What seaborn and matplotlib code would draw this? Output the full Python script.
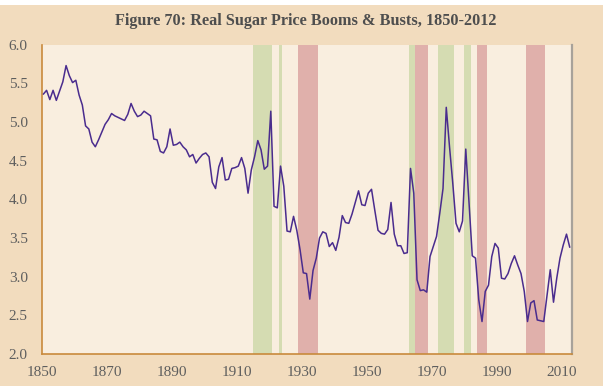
import matplotlib
matplotlib.use("Agg")
import matplotlib.pyplot as plt
import seaborn as sns
import numpy as np
import pandas as pd

# Real sugar price index, annual, 1850-2012
years = list(range(1850, 2013))
price = [
    5.36, 5.41, 5.29, 5.41, 5.28, 5.40, 5.52, 5.73, 5.60, 5.51,  # 1850s
    5.54, 5.35, 5.22, 4.95, 4.91, 4.74, 4.68, 4.77, 4.87, 4.97,  # 1860s
    5.03, 5.11, 5.08, 5.06, 5.04, 5.02, 5.10, 5.24, 5.14, 5.07,  # 1870s
    5.09, 5.14, 5.11, 5.08, 4.78, 4.77, 4.62, 4.60, 4.68, 4.91,  # 1880s
    4.70, 4.71, 4.74, 4.68, 4.64, 4.55, 4.58, 4.47, 4.53, 4.58,  # 1890s
    4.60, 4.55, 4.22, 4.14, 4.42, 4.54, 4.25, 4.26, 4.40, 4.41,  # 1900s
    4.43, 4.54, 4.40, 4.08, 4.38, 4.55, 4.76, 4.64, 4.39, 4.43,  # 1910s
    5.14, 3.91, 3.89, 4.43, 4.17, 3.59, 3.58, 3.78, 3.60, 3.35,  # 1920s
    3.05, 3.04, 2.71, 3.08, 3.24, 3.50, 3.58, 3.56, 3.39, 3.44,  # 1930s
    3.34, 3.51, 3.79, 3.70, 3.69, 3.81, 3.96, 4.11, 3.93, 3.92,  # 1940s
    4.08, 4.13, 3.86, 3.60, 3.56, 3.55, 3.61, 3.96, 3.55, 3.40,  # 1950s
    3.40, 3.30, 3.31, 4.40, 4.08, 2.96, 2.82, 2.83, 2.80, 3.26,  # 1960s
    3.39, 3.52, 3.82, 4.14, 5.19, 4.68, 4.21, 3.69, 3.58, 3.72,  # 1970s
    4.65, 3.95, 3.27, 3.24, 2.70, 2.42, 2.81, 2.89, 3.26, 3.43,  # 1980s
    3.37, 2.98, 2.97, 3.04, 3.17, 3.27, 3.15, 3.04, 2.81, 2.42,  # 1990s
    2.66, 2.69, 2.44, 2.43, 2.42, 2.76, 3.09, 2.67, 2.98, 3.24,  # 2000s
    3.41, 3.55, 3.38,                                              # 2010s
]

# Boom and bust episodes (first year, last year)
booms = [(1915, 1920), (1923, 1923), (1963, 1964), (1972, 1976), (1980, 1981)]
busts = [(1929, 1934), (1965, 1968), (1984, 1986), (1999, 2004)]

x_ticks = list(range(1850, 2011, 10))
x_labels = [str(y) if (y - 1850) % 20 == 0 else "" for y in x_ticks]
y_ticks = [2.0, 2.5, 3.0, 3.5, 4.0, 4.5, 5.0, 5.5, 6.0]

title = "Figure 70: Real Sugar Price Booms & Busts, 1850-2012"

df = pd.DataFrame({"year": years, "price": price})

sns.set_theme(style="white")
plt.rcParams["font.family"] = ["Liberation Serif", "DejaVu Serif"]

FIG_BG = "#F2DCBE"
AX_BG = "#F9EEDF"
SPINE = "#C98A3C"
TEXT = "#5E5E5E"
BOOM = "#D5DCB2"
BUST = "#E0B0AB"
LINE = "#4A2C8E"

fig = plt.figure(figsize=(6.03, 3.86), dpi=100)
fig.patch.set_facecolor("white")
fig.add_artist(plt.Rectangle((0, 0), 1, 1 - 5 / 386, transform=fig.transFigure,
                             facecolor=FIG_BG, edgecolor="none", zorder=-10))

ax = fig.add_axes([41.7 / 603, 1 - 354 / 386, (571.7 - 41.7) / 603, (354 - 44.7) / 386])
ax.set_facecolor(AX_BG)

for a, b in booms:
    ax.axvspan(a - 0.5, b + 0.5, color=BOOM, lw=0, zorder=1)
for a, b in busts:
    ax.axvspan(a - 0.5, b + 0.5, color=BUST, lw=0, zorder=1)

sns.lineplot(data=df, x="year", y="price", ax=ax, color=LINE, lw=1.1, zorder=3)

ax.set_xlim(1849.5, 2012.6)
ax.set_ylim(2.0, 6.0)
ax.set_xticks([t - 0.5 for t in x_ticks])
ax.set_xticklabels(x_labels)
ax.set_yticks(y_ticks)
ax.set_yticklabels([f"{v:.1f}" for v in y_ticks])
ax.set_xlabel("")
ax.set_ylabel("")

ax.tick_params(axis="x", direction="in", length=5, width=1, color=SPINE,
               labelsize=11, labelcolor=TEXT, pad=9)
ax.tick_params(axis="y", direction="in", length=4, width=1, color=SPINE,
               labelsize=11, labelcolor=TEXT, pad=10)

for side in ["left", "bottom"]:
    ax.spines[side].set_color(SPINE)
    ax.spines[side].set_linewidth(1.2)
    ax.spines[side].set_visible(True)
ax.spines["top"].set_visible(False)
ax.spines["right"].set_visible(True)
ax.spines["right"].set_color("#A8A29A")
ax.spines["right"].set_linewidth(1.6)

fig.text(0.507, 1 - 21 / 386, title, ha="center", va="center",
         fontsize=11.7, fontweight="bold", color="#4E4E4E")

fig.savefig("out.png", dpi=100, facecolor=fig.get_facecolor())
